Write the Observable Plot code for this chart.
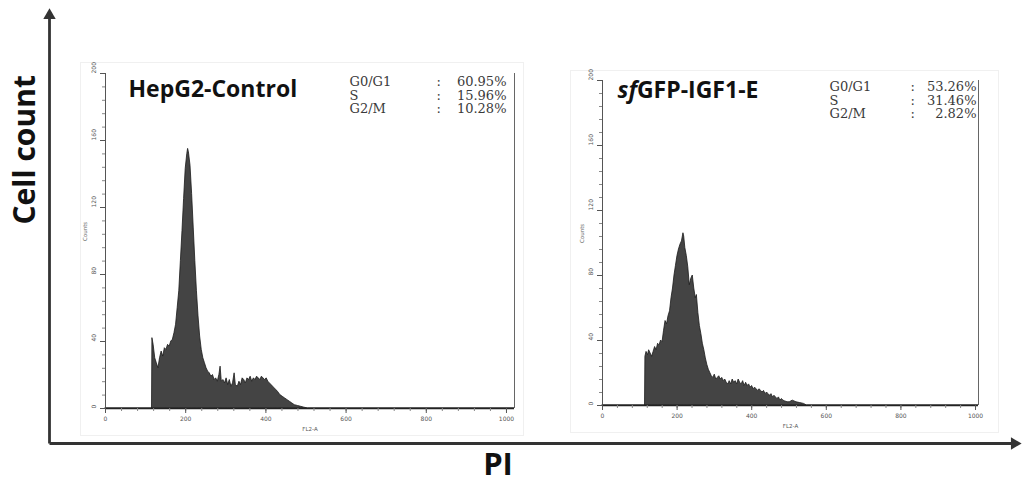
<!DOCTYPE html>
<html><head><meta charset="utf-8">
<script src="https://cdn.jsdelivr.net/npm/d3@7"></script>
<script src="https://cdn.jsdelivr.net/npm/@observablehq/plot@0.6"></script>
<style>
html,body{margin:0;padding:0;background:#fff;}
#chart{position:relative;width:1025px;height:490px;overflow:hidden;background:#fff;}
#chart svg{position:absolute;left:0;top:0;}
</style></head><body><div id="chart"></div>
<script>
// ---- data ----
const panelTitles = ["HepG2-Control", "sfGFP-IGF1-E"];
const phaseLabels = ["G0/G1", "S", "G2/M"];
const controlPercents = ["60.95%", "15.96%", "10.28%"];
const igfPercents = ["53.26%", "31.46%", "2.82%"];
const countTicks = [0, 40, 80, 120, 160, 200];
const channelTicks = [0, 200, 400, 600, 800, 1000];
const xAxisTitle = "FL2-A";
const yAxisTitle = "Counts";
const outerYTitle = "Cell count";
const outerXTitle = "PI";

const controlChannel = [0,116,117,120,124,128,132,136,140,144,148,152,156,160,164,168,172,176,180,184,188,192,196,200,204,206,208,212,216,220,224,228,232,236,240,244,248,252,256,260,264,268,272,276,280,284,287,290,294,298,302,306,310,314,318,322,325,330,334,338,342,346,350,354,358,362,366,370,374,378,382,386,390,394,398,402,406,410,414,418,422,426,430,436,442,448,454,460,466,472,480,488,496,505,1020];
const controlCount   = [0,0,42,38,30,27,24,30,34,31,36,35,38,37,40,41,45,50,60,70,88,106,125,143,152,155,153,145,128,108,88,70,55,43,35,30,27,24,22,21,19,20,17,18,16,20,25,16,17,15,18,14,17,13,15,21,14,13,16,14,18,17,15,18,17,19,16,18,17,19,18,17,19,18,17,18,16,15,14,13,12,11,10,8,7,6,5,4,3,2,1.5,1,0.5,0,0];

const igfChannel = [0,114,115,118,122,125,129,133,137,141,145,149,153,157,161,165,169,173,177,181,185,189,193,197,201,205,209,213,217,219,222,226,230,234,238,242,246,250,253,257,261,265,269,273,277,281,285,289,293,297,301,305,309,313,317,321,325,329,333,337,341,345,349,353,357,361,365,369,373,377,381,385,389,393,397,401,405,409,413,417,421,425,429,433,437,441,445,449,453,457,461,465,469,473,477,481,485,490,496,502,510,520,530,540,548,1008];
const igfCount   = [0,0,30,33,31,34,32,30,33,36,34,38,37,40,39,46,52,50,55,58,66,72,80,86,92,96,99,101,106,104,97,92,85,74,78,80,72,66,68,57,49,44,38,34,29,25,22,20,18,17,19,16,17,18,16,17,15,16,14,13,15,13,16,14,15,13,16,14,13,15,12,14,12,13,11,12,10,11,10,9,10,9,8,9,7,8,7,6,7,5,6,5,4,5,3,4,3,2.5,2,2,3,2,1.5,1,0,0];

const outerAxisLines = [{x1:0,y1:0,x2:0,y2:1},{x1:0,y1:0,x2:1,y2:0}];
const outerArrowHeads = [{x:0,y:1,angle:0},{x:1,y:0,angle:90}];

const minorCountTicks = d3.range(0, 201, 8);
const minorChannelTicks = d3.range(0, 1001, 40);

const root = document.getElementById("chart");

// ---- outer figure axes ----
const outer = Plot.plot({
  width: 1025, height: 490, margin: 0,
  x: {domain: [0, 1], range: [49, 1014], axis: null},
  y: {domain: [0, 1], range: [443, 15], axis: null},
  style: {background: "white"},
  marks: [
    Plot.link(outerAxisLines, {x1: "x1", y1: "y1", x2: "x2", y2: "y2", stroke: "#333", strokeWidth: 2.8}),
    Plot.dot(outerArrowHeads, {x: "x", y: "y", rotate: "angle", symbol: "triangle", r: 4.6, fill: "#333", stroke: null}),
    Plot.text([outerYTitle], {frameAnchor: "left", dx: 25, dy: -21, rotate: -90, fontFamily: "Open Sans", fontWeight: "bold", fontSize: 30, fill: "#111"}),
    Plot.text([outerXTitle], {frameAnchor: "bottom", dx: -15, dy: -16, fontFamily: "Open Sans", fontWeight: "bold", fontSize: 31, fill: "#111"})
  ]
});
root.appendChild(outer);

function panel(o) {
  const data = o.chan.map((c, i) => ({channel: c, count: o.cnt[i]}));
  return Plot.plot({
    width: 1025, height: 490,
    marginLeft: o.mL, marginRight: o.mR, marginTop: o.mT, marginBottom: o.mB,
    x: {domain: [0, o.xMax]},
    y: {domain: [0, 200]},
    style: {background: "transparent", overflow: "visible"},
    marks: [
      Plot.frame({stroke: "#f0f0f0", insetLeft: o.box[0], insetRight: o.box[1], insetTop: o.box[2], insetBottom: o.box[3]}),
      Plot.areaY(data, {x: "channel", y: "count", fill: "#444", stroke: "#1a1a1a", strokeWidth: 0.8}),
      Plot.ruleX([0], {stroke: "#555", strokeWidth: 1}),
      Plot.ruleX([o.xMax], {stroke: "#666", strokeWidth: 1}),
      Plot.ruleY([0], {stroke: "#222", strokeWidth: 1.3}),
      Plot.axisY({ticks: minorCountTicks, tickSize: 3, tickFormat: () => "", label: null, stroke: "#888"}),
      Plot.axisY({ticks: countTicks, tickSize: 5, tickFormat: () => "", label: null, stroke: "#555"}),
      Plot.axisX({ticks: minorChannelTicks, tickSize: 3, tickFormat: () => "", label: null, stroke: "#888"}),
      Plot.axisX({ticks: channelTicks, tickSize: 5, tickFormat: () => "", label: null, stroke: "#555"}),
      Plot.text(countTicks, {y: d => d, frameAnchor: "left", dx: -11, rotate: -90, text: d => String(d), fontSize: 6, fill: "#555", fontFamily: "DejaVu Sans"}),
      Plot.text(channelTicks, {x: d => d, frameAnchor: "bottom", dy: 12, text: d => String(d), fontSize: 6, fill: "#555", fontFamily: "DejaVu Sans"}),
      Plot.text([xAxisTitle], {frameAnchor: "bottom", dy: 22, fontSize: 5.5, fill: "#555", fontFamily: "DejaVu Sans"}),
      Plot.text([yAxisTitle], {frameAnchor: "left", dx: -20, rotate: -90, fontSize: 5.5, fill: "#666", fontFamily: "DejaVu Sans"}),
      Plot.text([o.title], {frameAnchor: "top-left", dx: o.titleDx, dy: o.titleDy, textAnchor: "start", fontFamily: "Open Sans", fontWeight: "bold", fontSize: 23, fill: "#111"}),
      Plot.text([phaseLabels.join("\n")], {frameAnchor: "top-right", dx: o.labDx, dy: o.statDy, textAnchor: "start", lineAnchor: "top", lineHeight: 1.05, fontFamily: "DejaVu Serif", fontSize: 13, fill: "#3a3a3a"}),
      Plot.text([phaseLabels.map(() => ":").join("\n")], {frameAnchor: "top-right", dx: o.colDx, dy: o.statDy, textAnchor: "start", lineAnchor: "top", lineHeight: 1.05, fontFamily: "DejaVu Serif", fontSize: 13, fill: "#3a3a3a"}),
      Plot.text([o.percents.join("\n")], {frameAnchor: "top-right", dx: o.valDx, dy: o.statDy, textAnchor: "end", lineAnchor: "top", lineHeight: 1.05, fontFamily: "DejaVu Serif", fontSize: 13, fill: "#3a3a3a"})
    ]
  });
}

root.appendChild(panel({
  chan: controlChannel, cnt: controlCount, xMax: 1020,
  mL: 105, mR: 511, mT: 73, mB: 82,
  box: [-25, -9, -11, -27],
  title: panelTitles[0], titleDx: 23, titleDy: 7,
  percents: controlPercents, labDx: -165, colDx: -78, valDx: -8, statDy: 3
}));

const right = panel({
  chan: igfChannel, cnt: igfCount, xMax: 1008,
  mL: 602, mR: 47, mT: 80, mB: 85,
  box: [-32, -20, -10, -27],
  title: panelTitles[1], titleDx: 15, titleDy: 1,
  percents: igfPercents, labDx: -149, colDx: -68, valDx: -2, statDy: 1
});
root.appendChild(right);

// italic "sf" prefix in the second title
right.querySelectorAll("text").forEach(t => {
  if (t.textContent === panelTitles[1]) {
    const s = panelTitles[1];
    t.textContent = "";
    const a = document.createElementNS("http://www.w3.org/2000/svg", "tspan");
    a.setAttribute("font-style", "italic");
    a.textContent = s.slice(0, 2);
    const b = document.createElementNS("http://www.w3.org/2000/svg", "tspan");
    b.textContent = s.slice(2);
    t.appendChild(a); t.appendChild(b);
  }
});
</script></body></html>
